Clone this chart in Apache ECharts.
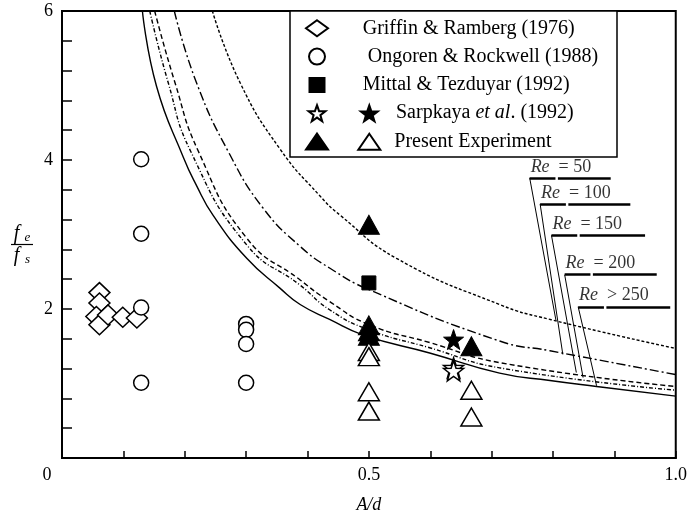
<!DOCTYPE html>
<html><head><meta charset="utf-8">
<script src="https://cdn.jsdelivr.net/npm/echarts@6/dist/echarts.min.js"></script>
<style>html,body{margin:0;padding:0;background:#fff}#c{width:690px;height:519px}</style>
</head><body><div id="c"></div>
<script>
// ---- data (A/d, fe/fs) ----
const griffin = [[0.061,2.22],[0.061,2.08],[0.056,1.90],[0.061,1.79],[0.075,1.92],[0.099,1.89],[0.122,1.88]];
const ongoren = [[0.129,4.01],[0.129,3.01],[0.129,2.02],[0.129,1.01],[0.300,1.80],[0.300,1.72],[0.300,1.53],[0.300,1.01]];
const mittal = [[0.500,2.35]];
const sarpkayaOpen = [[0.638,1.21],[0.638,1.17]];
const sarpkayaFilled = [[0.638,1.59]];
const presentFilled = [[0.500,3.13],[0.500,1.78],[0.500,1.70],[0.500,1.64],[0.667,1.50]];
const presentOpen = [[0.500,1.43],[0.500,1.36],[0.500,0.89],[0.500,0.63],[0.667,0.91],[0.667,0.55]];

const re50  = [[0.245,6.0],[0.290,5.04],[0.355,4.15],[0.420,3.52],[0.453,3.26],[0.545,2.68],[0.713,2.06],[0.795,1.86],[1.0,1.47]];
const re100 = [[0.183,6.0],[0.219,5.04],[0.273,4.08],[0.328,3.35],[0.388,2.84],[0.436,2.55],[0.5,2.26],[0.713,1.57],[0.795,1.44],[1.0,1.12]];
const re150 = [[0.151,6.0],[0.184,5.04],[0.222,4.12],[0.301,2.95],[0.388,2.39],[0.436,2.10],[0.5,1.79],[0.599,1.55],[0.713,1.28],[1.0,0.96]];
const re200 = [[0.143,6.0],[0.173,5.04],[0.210,4.11],[0.301,2.86],[0.388,2.32],[0.436,1.99],[0.5,1.72],[0.599,1.48],[0.713,1.21],[1.0,0.91]];
const re250 = [[0.131,6.0],[0.154,4.99],[0.198,4.03],[0.219,3.66],[0.246,3.26],[0.301,2.68],[0.355,2.28],[0.388,2.06],[0.436,1.86],[0.491,1.65],[0.599,1.41],[0.713,1.14],[0.795,1.04],[0.871,0.96],[1.0,0.83]];

const reTexts = ['= 50','= 100','= 150','= 200','> 250'];
const reLabelAt = [[0.762,3.76],[0.779,3.41],[0.7975,2.99],[0.819,2.46],[0.841,2.03]];
const reLeaderEnd = [[0.805,1.84],[0.816,1.39],[0.838,1.147],[0.849,1.08],[0.871,0.97]];
const reUnderlineEnd = [0.894,0.926,0.950,0.969,0.991];

const xLabels = {0:'0', 0.5:'0.5', 1:'1.0'};
const yLabels = {2:'2', 4:'4', 6:'6'};

// ---- chart ----
const FONT = '"Liberation Serif","Times New Roman",serif';
const STAR = 'path://M0,-10 L2.35,-3.24 L9.51,-3.09 L3.8,1.24 L5.88,8.09 L0,4 L-5.88,8.09 L-3.8,1.24 L-9.51,-3.09 L-2.35,-3.24 Z';
const LEG_SQUARE = 'path://M0,0 M22,16 M3.5,1 L18.5,1 L18.5,15 L3.5,15 Z';
const openStyle = {color:'#fff', borderColor:'#000', borderWidth:1.5, opacity:1};
const fillStyle = {color:'#000', borderColor:'#000', borderWidth:1, opacity:1};
const RE_GAP_A = 0.042, RE_GAP_B = 0.046; // break in underline after "Re"

function curve(name, data, type){
  return {name, type:'line', data, smooth:0.5, symbol:'none', silent:true, z:2,
    lineStyle:{color:'#000', width:1.4, type}};
}
function scat(name, data, symbol, size, style){
  return {name, type:'scatter', data, symbol, symbolSize:size, itemStyle:style, z:5, silent:true};
}
function lookup(map, v){
  for (const k in map){ if (Math.abs(v - Number(k)) < 1e-6) return map[k]; }
  return '';
}

const underlines = [];
reLabelAt.forEach((p,i)=>{
  underlines.push({coords:[p, [p[0]+RE_GAP_A, p[1]]]});
  underlines.push({coords:[[p[0]+RE_GAP_B, p[1]], [reUnderlineEnd[i], p[1]]]});
});

const series = [
  curve('Re=50', re50, [3,2]),
  curve('Re=100', re100, [9,3,2,3]),
  curve('Re=150', re150, [5,3]),
  curve('Re=200', re200, [4,2,1,2]),
  curve('Re>250', re250, 'solid'),
  scat('Griffin & Ramberg (1976)', griffin, 'diamond', [21,20], openStyle),
  scat('Ongoren & Rockwell (1988)', ongoren, 'circle', 15, openStyle),
  scat('Mittal & Tezduyar (1992)', mittal, 'rect', 14, fillStyle),
  scat('SarpkayaOpen', sarpkayaOpen, STAR, 20, openStyle),
  scat('SarpkayaFilled', sarpkayaFilled, STAR, 20, fillStyle),
  scat('PresentFilled', presentFilled, 'triangle', [21,19], fillStyle),
  scat('PresentOpen', presentOpen, 'triangle', [21,18], openStyle),
  {type:'lines', coordinateSystem:'cartesian2d', silent:true, z:3,
   lineStyle:{color:'#000', width:1, opacity:1},
   data: reLabelAt.map((p,i)=>({coords:[reLeaderEnd[i], p]}))},
  {type:'lines', coordinateSystem:'cartesian2d', silent:true, z:3,
   lineStyle:{color:'#000', width:2.5, opacity:1},
   data: underlines},
  {type:'scatter', silent:true, z:6, symbolSize:0.1, itemStyle:{color:'rgba(0,0,0,0)'},
   data: reLabelAt.map((p,i)=>({value:p, name:reTexts[i]})),
   label:{show:true, position:[1,-2], align:'left', verticalAlign:'bottom',
     formatter: p => '{i|Re}{t|  ' + p.name + '}',
     rich:{i:{fontFamily:FONT, fontStyle:'italic', fontSize:18, color:'#000'},
           t:{fontFamily:FONT, fontSize:18, color:'#000'}}}}
];

const legendRich = {
  t:{fontFamily:FONT, fontSize:20, lineHeight:21, color:'#000'},
  it:{fontFamily:FONT, fontSize:20, lineHeight:21, fontStyle:'italic', color:'#000'},
  s30:{width:29.7, lineHeight:21}, s35:{width:34.7, lineHeight:21},
  s63:{width:63, lineHeight:21}, s61:{width:61.3, lineHeight:21}
};
const legendText = {
  'Griffin & Ramberg (1976)':'{s30| }{t|Griffin & Ramberg (1976)}',
  'Ongoren & Rockwell (1988)':'{s35| }{t|Ongoren & Rockwell (1988)}',
  'Mittal & Tezduyar (1992)':'{s30| }{t|Mittal & Tezduyar (1992)}',
  'SarpkayaOpen':'{s63| }{t|Sarpkaya }{it|et al}{t|. (1992)}',
  'PresentFilled':'{s61| }{t|Present Experiment}'
};

const option = {
  animation:false,
  backgroundColor:'#fff',
  grid:{left:62, right:14, top:11, bottom:58, show:true, borderColor:'#000', borderWidth:2, backgroundColor:'transparent'},
  xAxis:{type:'value', min:0, max:1, interval:0.1,
    axisLine:{lineStyle:{color:'#000', width:2}},
    axisTick:{inside:true, length:7, lineStyle:{color:'#000', width:1.5}},
    splitLine:{show:false},
    axisLabel:{color:'#000', fontFamily:FONT, fontSize:18, margin:8,
      formatter: v => { const s = lookup(xLabels, v); return s === '0' ? '{z|0}' : s; },
      rich:{z:{fontFamily:FONT, fontSize:18, color:'#000', padding:[0,30,0,0]}}},
    name:'A/d', nameLocation:'middle', nameGap:38,
    nameTextStyle:{color:'#000', fontFamily:FONT, fontSize:18, fontStyle:'italic'}},
  yAxis:{type:'value', min:0, max:6, interval:0.4,
    axisLine:{lineStyle:{color:'#000', width:2}},
    axisTick:{inside:true, length:10, lineStyle:{color:'#000', width:1.5}},
    splitLine:{show:false},
    axisLabel:{color:'#000', fontFamily:FONT, fontSize:18, margin:9,
      formatter: v => lookup(yLabels, v)},
    name:'{f|f}{fs|e}\n{bar| }\n{f|f}{fs|s}', nameLocation:'middle', nameGap:40, nameRotate:0,
    nameTextStyle:{align:'center', verticalAlign:'middle', padding:[20,0,0,0],
      rich:{f:{fontFamily:FONT, fontStyle:'italic', fontSize:20, color:'#000', width:11, align:'right', lineHeight:18},
            fs:{fontFamily:FONT, fontStyle:'italic', fontSize:13, color:'#000', width:11, align:'left', lineHeight:18, padding:[8,0,0,0]},
            bar:{width:22, height:1.2, lineHeight:4, backgroundColor:'#000', fontSize:1}}}},
  legend:[
    {orient:'vertical', left:305, top:17.8, padding:0, itemWidth:22, itemHeight:16, itemGap:7.3,
     selectedMode:false, z:8,
     data:['Griffin & Ramberg (1976)','Ongoren & Rockwell (1988)',{name:'Mittal & Tezduyar (1992)', icon:LEG_SQUARE},'SarpkayaOpen','PresentFilled'],
     formatter: n => legendText[n],
     textStyle:{fontFamily:FONT, fontSize:20, lineHeight:21, color:'#000', rich:legendRich}},
    {orient:'vertical', left:357.3, top:102.9, padding:0, itemWidth:22, itemHeight:16, itemGap:7.3,
     selectedMode:false, z:8,
     data:['SarpkayaFilled','PresentOpen'],
     formatter: () => ' ',
     textStyle:{fontFamily:FONT, fontSize:20, lineHeight:21, color:'#000'}}
  ],
  graphic:[{type:'rect', z:7, shape:{x:290, y:11, width:327, height:146},
    style:{fill:'#fff', stroke:'#000', lineWidth:1.5}}],
  series
};
const chart = echarts.init(document.getElementById('c'), null, {renderer:'canvas'});
chart.setOption(option);
</script></body></html>
